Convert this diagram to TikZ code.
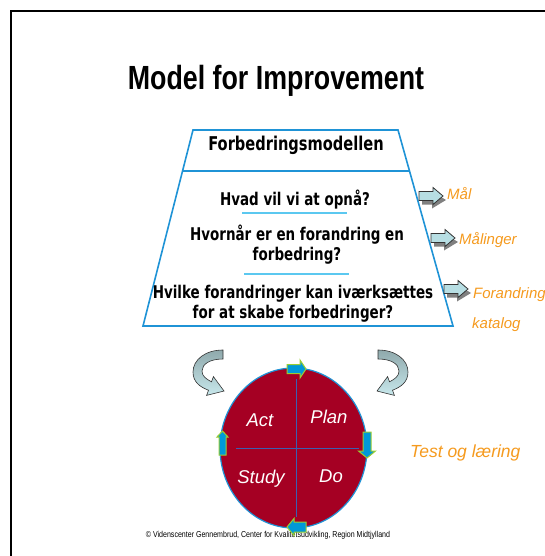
\documentclass[tikz,border=0pt]{standalone}
\usepackage{fontspec}
\setmainfont{Liberation Sans}
\newfontfamily\titlefont[FakeStretch=0.8]{Liberation Sans}
\newfontfamily\boxfont[FakeStretch=0.77]{DejaVu Sans}
\newfontfamily\notefont[FakeStretch=0.82]{Liberation Sans}
\usetikzlibrary{shapes.geometric}

\definecolor{FRAMEBLUE}{HTML}{1F93D6}
\definecolor{RULEBLUE}{HTML}{5BC8F0}
\definecolor{ORANGE}{HTML}{F59A1E}
\definecolor{PDSA}{HTML}{A50023}
\definecolor{CROSS}{HTML}{3A5FB0}
\definecolor{ARROWBLUE}{HTML}{0099D8}
\definecolor{ARROWRIM}{HTML}{9ACD32}
\definecolor{PALE}{HTML}{B7DEE3}
\definecolor{CURLTOP}{HTML}{8FA9AC}
\definecolor{CURLBOT}{HTML}{C8E8EC}

\tikzset{
  question/.style={font=\boxfont\bfseries\fontsize{17.5}{20}\selectfont, anchor=base, inner sep=0pt, align=center},
  goal/.style={font=\itshape\fontsize{15}{17}\selectfont, text=ORANGE, anchor=base west, inner sep=0pt},
  quarter/.style={font=\itshape\fontsize{18.5}{20}\selectfont, text=white, anchor=base, inner sep=0pt},
  cyclearrow/.style={fill=ARROWBLUE, draw=ARROWRIM, line width=1pt, line join=miter},
  sidearrow/.pic={
    \fill[black!50] (3,-0.5) -- (13,-0.5) -- (13,-4.5) -- (27,4) -- (13,12.5) -- (13,8.5) -- (3,8.5) -- cycle;
    \draw[fill=PALE, draw=black!80, line width=0.8pt]
      (0,-4.5) -- (14,-4.5) -- (14,-8.5) -- (24,0) -- (14,8.5) -- (14,4.5) -- (0,4.5) -- cycle;
  },
  curl/.pic={
    \draw[black!80, line width=0.6pt, top color=CURLTOP, bottom color=CURLBOT]
      (0,0) .. controls (-18,0) and (-30,10) .. (-30,22)
      .. controls (-30,32) and (-23,37) .. (-14.5,40.2)
      -- (-16.4,45.4) -- (1,41) -- (-9.6,26.6) -- (-11.5,31.8)
      .. controls (-17,29) and (-21,26) .. (-21,21)
      .. controls (-21,14) and (-13,9) .. (0,9) -- cycle;
  }
}

\begin{document}
\begin{tikzpicture}[x=1pt, y=-1pt]
  \useasboundingbox (0,0) rectangle (545,556);

  % frame
  \draw[black, line width=2.5pt] (11,570) -- (11,11) -- (560,11);

  \node[font=\titlefont\bfseries\fontsize{33.5}{36}\selectfont, anchor=base, inner sep=0pt]
    (title) at (276,90) {Model for Improvement};

  % trapezoid
  \coordinate (tl) at (193,130);
  \coordinate (tr) at (398,130);
  \coordinate (br) at (453,326);
  \coordinate (bl) at (143,326);
  \draw[FRAMEBLUE, line width=1.6pt] (tl) -- (tr) -- (br) -- (bl) -- cycle;
  \draw[FRAMEBLUE, line width=1.6pt] (182.5,171) -- (409.5,171);

  \node[font=\boxfont\bfseries\fontsize{19}{22}\selectfont, anchor=base, inner sep=0pt]
    (model) at (296,151) {Forbedringsmodellen};
  \node[question] (q1) at (295,205) {Hvad vil vi at opnå?};
  \draw[RULEBLUE, line width=1.5pt] (242,213) -- (347,213);
  \node[question] (q2) at (297,260) {Hvornår er en forandring en\\forbedring?};
  \draw[RULEBLUE, line width=1.5pt] (244,274) -- (349,274);
  \node[question] (q3) at (293,318) {Hvilke forandringer kan iværksættes\\for at skabe forbedringer?};

  % side arrows
  \pic at (419,196) {sidearrow};
  \node[goal] (maal) at (447,199) {Mål};
  \pic at (431,238) {sidearrow};
  \node[goal] (maalinger) at (459,244) {Målinger};
  \pic at (444,289) {sidearrow};
  \node[goal] (forandring) at (473,298) {Forandring};
  \node[goal] (katalog) at (472,328) {katalog};

  % curled arrows
  \pic at (223,350) {curl};
  \pic[xscale=-1] at (378,350) {curl};

  % PDSA wheel
  \node[ellipse, draw=FRAMEBLUE, fill=PDSA, line width=1.2pt,
    minimum width=147pt, minimum height=160pt] (pdsa) at (293.5,448) {};
  \draw[CROSS, line width=0.8pt] (296,379) -- (296,517);
  \draw[CROSS, line width=0.8pt] (236,448) -- (359,448);
  \node[quarter] (act) at (260,426) {Act};
  \node[quarter] (plan) at (329,423) {Plan};
  \node[quarter] (study) at (261,483) {Study};
  \node[quarter] (do) at (331,482) {Do};

  \node[font=\itshape\fontsize{17.5}{20}\selectfont, text=ORANGE, anchor=base west, inner sep=0pt]
    (test) at (410,457) {Test og læring};

  \node[font=\notefont\fontsize{8.6}{10}\selectfont, anchor=base, inner sep=0pt]
    (copy) at (268,537) {© Videnscenter Gennembrud, Center for Kvalitetsudvikling, Region Midtjylland};

  % arrows round the wheel
  \draw[cyclearrow] (287,364.5) -- (300,364.5) -- (300,360) -- (306,369) -- (300,378) -- (300,373.5) -- (287,373.5) -- cycle;
  \draw[cyclearrow] (363,432) -- (363,451) -- (358.5,451) -- (367,458) -- (375.5,451) -- (371,451) -- (371,432) -- cycle;
  \draw[cyclearrow] (306,522) -- (294,522) -- (294,518.5) -- (287,527) -- (294,535.5) -- (294,532) -- (306,532) -- cycle;
  \draw[cyclearrow] (219,455) -- (219,437) -- (217,437) -- (222.5,431) -- (228,437) -- (226,437) -- (226,455) -- cycle;
\end{tikzpicture}
\end{document}
